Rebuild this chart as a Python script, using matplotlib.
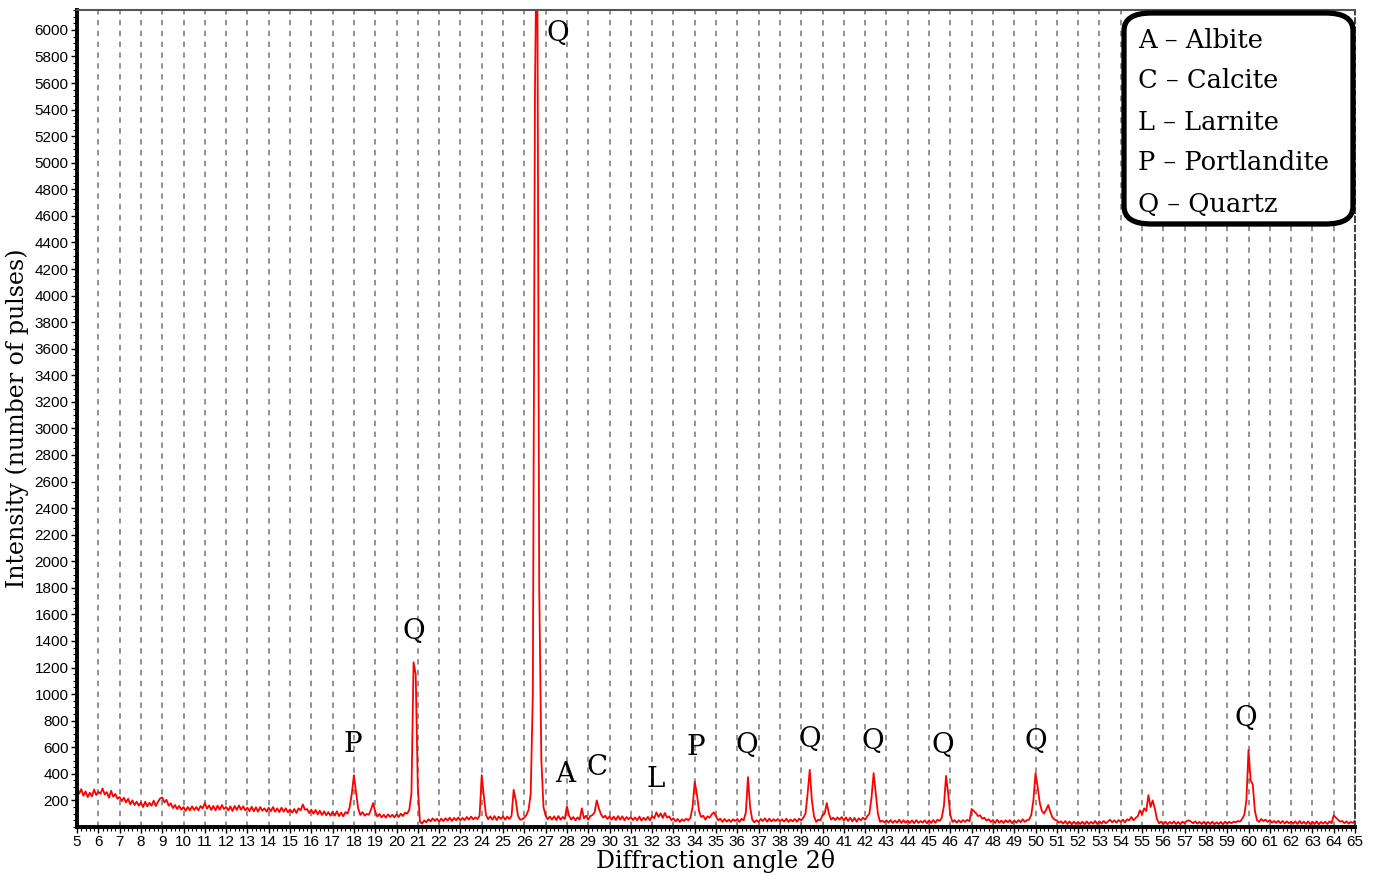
import numpy as np
import matplotlib.pyplot as plt
from matplotlib.ticker import MultipleLocator
from matplotlib.patches import FancyBboxPatch

# XRD scan, 2theta from 5 to 65 deg in 0.1 deg steps
start_angle = 5.0
step = 0.1

counts = [
    # 5
    300, 250, 285, 235, 268, 225, 258, 230, 282, 240,
    265, 250, 290, 245, 262, 220, 272, 228, 248, 212,
    225, 195, 220, 185, 212, 170, 200, 165, 190, 160,
    185, 150, 190, 155, 182, 160, 198, 158, 190, 215,
    222, 185, 205, 160, 178, 142, 165, 135, 158, 130,
    # 10
    150, 122, 150, 125, 155, 128, 150, 125, 158, 140,
    180, 138, 162, 128, 158, 125, 160, 130, 165, 135,
    150, 125, 155, 120, 158, 128, 162, 130, 155, 125,
    145, 120, 152, 118, 148, 115, 150, 122, 140, 115,
    145, 118, 150, 115, 140, 112, 145, 115, 140, 110,
    # 15
    132, 108, 135, 105, 140, 125, 170, 130, 135, 105,
    130, 100, 128, 95, 122, 90, 118, 88, 112, 85,
    115, 85, 118, 82, 108, 80, 112, 100, 150, 250,
    390, 260, 140, 90, 112, 85, 98, 92, 130, 180,
    115, 78, 98, 72, 92, 70, 95, 75, 92, 72,
    # 20
    95, 75, 100, 82, 108, 100, 130, 250, 1240, 1150,
    300, 40, 25, 50, 35, 58, 42, 65, 45, 62,
    40, 62, 45, 65, 48, 70, 45, 68, 50, 72,
    50, 68, 52, 75, 55, 78, 58, 72, 60, 85,
    390, 230, 90, 58, 80, 55, 82, 52, 78, 60,
    # 25
    80, 55, 78, 60, 82, 280, 200, 85, 55, 58,
    70, 90, 130, 250, 1000, 5550, 7000, 1800, 500, 150,
    85, 58, 78, 55, 80, 52, 82, 55, 75, 60,
    155, 85, 55, 75, 50, 72, 55, 140, 65, 85,
    55, 82, 90, 110, 200, 140, 95, 70, 85, 60,
    # 30
    80, 55, 78, 52, 82, 55, 80, 50, 75, 58,
    75, 52, 72, 50, 78, 48, 70, 52, 76, 50,
    82, 65, 110, 75, 102, 68, 105, 70, 80, 52,
    65, 42, 60, 38, 58, 45, 62, 50, 70, 150,
    340, 250, 120, 75, 85, 55, 80, 70, 95, 110,
    # 35
    80, 50, 62, 38, 60, 40, 55, 38, 58, 45,
    60, 38, 62, 50, 110, 375, 150, 55, 35, 50,
    38, 60, 45, 65, 40, 62, 42, 58, 45, 60,
    42, 58, 40, 62, 38, 55, 42, 60, 40, 62,
    50, 70, 100, 250, 430, 200, 80, 38, 55, 50,
    # 40
    90, 100, 180, 100, 55, 70, 52, 72, 55, 75,
    48, 72, 45, 70, 42, 68, 40, 65, 50, 70,
    55, 80, 100, 220, 405, 250, 100, 38, 48, 35,
    50, 32, 52, 30, 48, 32, 55, 30, 50, 32,
    48, 30, 50, 28, 52, 30, 45, 32, 50, 28,
    # 45
    50, 30, 52, 32, 55, 45, 70, 160, 385, 250,
    90, 38, 52, 32, 50, 35, 52, 38, 55, 42,
    135, 120, 105, 82, 88, 62, 70, 48, 58, 38,
    52, 30, 55, 32, 48, 30, 50, 35, 52, 28,
    50, 32, 52, 35, 58, 38, 52, 55, 90, 200,
    # 50
    405, 300, 180, 120, 100, 130, 165, 110, 70, 55,
    50, 32, 42, 25, 45, 22, 42, 20, 40, 22,
    38, 22, 40, 20, 42, 22, 38, 25, 45, 22,
    42, 25, 45, 28, 42, 55, 35, 50, 32, 52,
    38, 55, 35, 58, 50, 75, 50, 68, 80, 125,
    # 55
    95, 140, 120, 240, 150, 200, 140, 60, 28, 40,
    22, 40, 20, 38, 25, 42, 22, 38, 20, 40,
    28, 45, 50, 40, 28, 42, 25, 38, 22, 40,
    20, 38, 22, 40, 20, 35, 22, 38, 20, 40,
    25, 38, 28, 40, 35, 45, 40, 60, 90, 200,
    # 60
    580, 350, 320, 120, 50, 38, 60, 45, 55, 38,
    52, 32, 45, 30, 46, 28, 45, 26, 42, 28,
    40, 24, 42, 22, 45, 25, 40, 22, 42, 20,
    40, 22, 42, 20, 38, 25, 40, 22, 42, 28,
    88, 70, 55, 40, 45, 28, 42, 25, 38, 30,
    48,
]
two_theta = start_angle + step * np.arange(len(counts))

# phase labels: (letter, 2theta, height)
peak_letters = ["P", "Q", "Q", "A", "C", "L", "P", "Q", "Q", "Q", "Q", "Q", "Q"]
peak_pos = [17.96, 20.82, 27.55, 27.9, 29.4, 32.15, 34.06, 36.45, 39.41, 42.37, 45.66, 50.02, 59.88]
peak_hgt = [620, 1470, 5970, 395, 445, 355, 595, 610, 660, 640, 610, 640, 820]

legend_lines = ["A – Albite", "C – Calcite", "L – Larnite", "P – Portlandite", "Q – Quartz"]

serif = "DejaVu Serif"
sans = "Liberation Sans"

fig = plt.figure(figsize=(13.73, 8.82), dpi=100)
ax = fig.add_axes([0.0561, 0.0624, 0.9308, 0.9263])

ax.plot(two_theta, counts, color="red", lw=1.3)

ax.set_xlim(5, 65)
ax.set_ylim(0, 6150)
ax.xaxis.set_major_locator(MultipleLocator(1))
ax.xaxis.set_minor_locator(MultipleLocator(0.2))
ax.set_yticks(np.arange(200, 6001, 200))
ax.yaxis.set_minor_locator(MultipleLocator(50))
ax.tick_params(axis="both", which="major", direction="out", length=4, width=1,
               labelsize=11, pad=2)
ax.tick_params(axis="both", which="minor", direction="out", length=3, width=0.8)
for lab in ax.get_xticklabels() + ax.get_yticklabels():
    lab.set_fontfamily(sans)

ax.grid(axis="x", which="major", color="#8a8a8a", linestyle=(0, (3, 3)), lw=1.3)

ax.spines["left"].set_linewidth(2.8)
ax.spines["bottom"].set_linewidth(2.8)
ax.spines["top"].set_color("#555555")
ax.spines["top"].set_linewidth(1.5)
ax.spines["right"].set_linestyle((0, (3, 2)))
ax.spines["right"].set_color("#333333")
ax.spines["right"].set_linewidth(1.3)

for letter, x, y in zip(peak_letters, peak_pos, peak_hgt):
    ax.text(x, y, letter, ha="center", va="center", fontsize=20, family=serif)

ax.set_ylabel("Intensity (number of pulses)", fontsize=17, family=serif, labelpad=4)
ax.set_xlabel("Diffraction angle 2θ", fontsize=17, family=serif, labelpad=0)

# phase key box in the upper right corner
box = FancyBboxPatch((1124 / 1373, 1 - 224 / 882), 229 / 1373, 211 / 882,
                     boxstyle="round,pad=0,rounding_size=0.02",
                     transform=fig.transFigure, fc="white", ec="black", lw=3.8,
                     zorder=5)
fig.patches.append(box)
for i, line in enumerate(legend_lines):
    fig.text(1138 / 1373, 1 - (40 + 41 * i) / 882, line, ha="left", va="center",
             fontsize=18.5, family=serif, zorder=6)

fig.savefig("out.png", dpi=100)
